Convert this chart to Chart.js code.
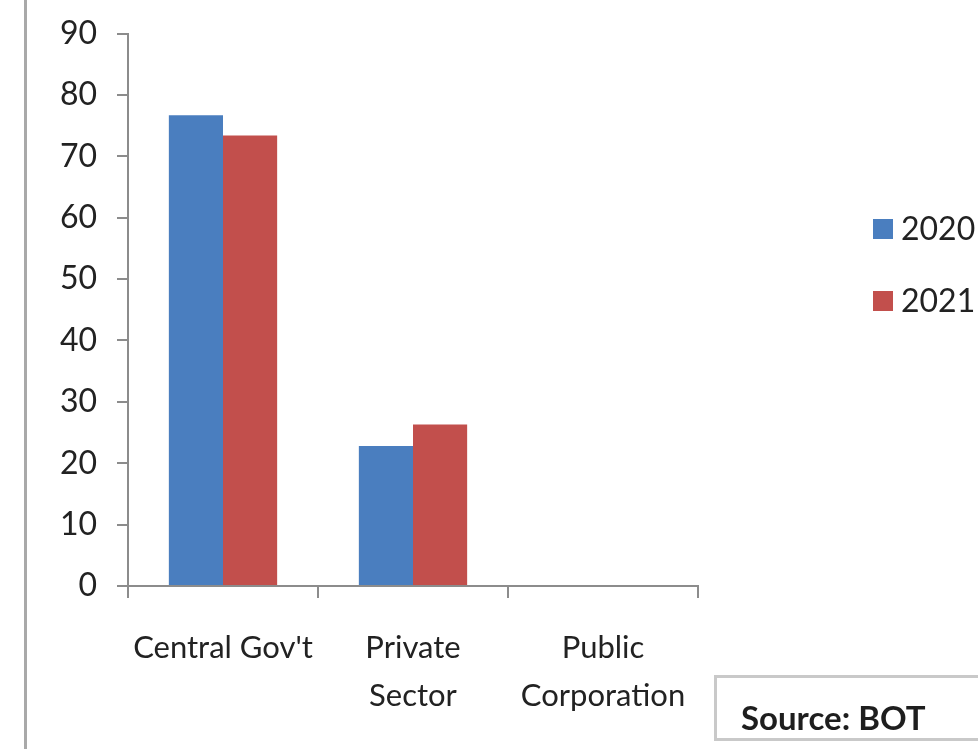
<!DOCTYPE html>
<html>
<head>
<meta charset="utf-8">
<script src="https://cdn.jsdelivr.net/npm/chart.js@4.4.1/dist/chart.umd.min.js"></script>
<style>
    html, body { margin: 0; padding: 0; background: #fff; overflow: hidden; }
    #wrap { position: relative; width: 978px; height: 749px; }
    #edge { position: absolute; left: 24px; top: 0; width: 3px; height: 749px; background: #a9a9a9; }
    #source {
        position: absolute; left: 714px; top: 675px; width: 290px; height: 60px;
        border: 3px solid #c9c9c9; box-sizing: content-box;
        font: bold 33px Lato, "Open Sans", sans-serif; color: #1e1e1e;
    }
    #source span { position: absolute; left: 24px; top: 19px; }
</style>
</head>
<body>
<div id="wrap">
    <canvas id="debtChart" width="978" height="749"></canvas>
    <div id="edge"></div>
    <div id="source"><span>Source: BOT</span></div>
</div>
<script>
// Debt stock by borrower category (%)
const categories = [["Central Gov't"], ["Private", "Sector"], ["Public", "Corporation"]];
const seriesNames = ['2020', '2021'];
const values2020 = [76.7, 22.8, 0];
const values2021 = [73.4, 26.3, 0];
const yTicks = [0, 10, 20, 30, 40, 50, 60, 70, 80, 90];

const axisColor = '#8c8c8c';
const textColor = '#222222';
const fontFamily = 'Lato, "Open Sans", sans-serif';

// Legend drawn at the right side, like the original sheet
const sideLegend = {
    id: 'sideLegend',
    afterDraw(chart) {
        const ctx = chart.ctx;
        ctx.save();
        ctx.font = '32px ' + fontFamily;
        ctx.textBaseline = 'middle';
        chart.data.datasets.forEach((ds, i) => {
            const y = 229 + i * 72;
            ctx.fillStyle = ds.backgroundColor;
            ctx.fillRect(873, y - 10, 20, 20);
            ctx.fillStyle = textColor;
            ctx.fillText(ds.label, 901, y + 1);
        });
        ctx.restore();
    }
};

const ctx = document.getElementById('debtChart').getContext('2d');
const debtChart = new Chart(ctx, {
    type: 'bar',
    data: {
        labels: categories,
        datasets: [
            {
                label: seriesNames[0],
                data: values2020,
                backgroundColor: '#4a7ebf',
                borderWidth: 0,
                categoryPercentage: 0.57,
                barPercentage: 1
            },
            {
                label: seriesNames[1],
                data: values2021,
                backgroundColor: '#c24f4c',
                borderWidth: 0,
                categoryPercentage: 0.57,
                barPercentage: 1
            }
        ]
    },
    options: {
        responsive: false,
        animation: false,
        layout: {
            padding: { top: 33, right: 280, left: 0, bottom: 0 }
        },
        plugins: {
            legend: { display: false },
            tooltip: { enabled: false }
        },
        scales: {
            x: {
                grid: {
                    offset: true,
                    drawOnChartArea: false,
                    tickLength: 12,
                    color: axisColor,
                    lineWidth: 2
                },
                border: { color: axisColor, width: 2 },
                ticks: {
                    color: textColor,
                    padding: 26,
                    maxRotation: 0,
                    autoSkip: false,
                    font: { family: fontFamily, size: 31, lineHeight: 1.55 }
                },
                afterFit: function(scale) {
                    scale.height = 163;
                }
            },
            y: {
                min: 0,
                max: 90,
                afterBuildTicks: function(scale) {
                    scale.ticks = yTicks.map(v => ({ value: v }));
                },
                grid: {
                    drawOnChartArea: false,
                    tickLength: 11,
                    color: axisColor,
                    lineWidth: 2
                },
                border: { color: axisColor, width: 2 },
                ticks: {
                    color: textColor,
                    padding: 20,
                    font: { family: fontFamily, size: 32, lineHeight: 0.85 }
                },
                afterFit: function(scale) {
                    scale.width = 128;
                }
            }
        }
    },
    plugins: [sideLegend]
});
</script>
</body>
</html>
